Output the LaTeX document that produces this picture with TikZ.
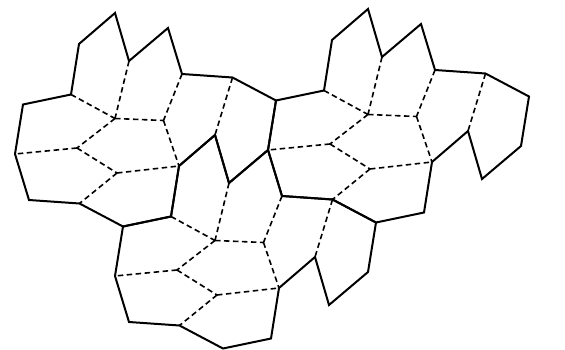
\documentclass[tikz,border=0pt]{standalone}
\begin{document}
\begin{tikzpicture}[x=1pt,y=-1pt]
\tikzset{
  outline/.style={line width=2pt, line join=miter, line cap=round},
  inner/.style={line width=1.6pt, dash pattern=on 5.5pt off 3.5pt},
  patch/.pic={
    \coordinate (a1) at (15,154);
    \coordinate (a2) at (23,104.5);
    \coordinate (a3) at (71,94.5);
    \coordinate (a4) at (79,44);
    \coordinate (a5) at (115,13);
    \coordinate (a6) at (129,61);
    \coordinate (a7) at (168,28);
    \coordinate (a8) at (182,74);
    \coordinate (a9) at (232.5,77.5);
    \coordinate (a10) at (276,100.5);
    \coordinate (a11) at (268,150);
    \coordinate (a12) at (229,183);
    \coordinate (a13) at (215,135);
    \coordinate (a14) at (179,166);
    \coordinate (a15) at (171,216.5);
    \coordinate (a16) at (123,226.5);
    \coordinate (a17) at (79.5,203.5);
    \coordinate (a18) at (29,200);
    \coordinate (j1) at (115,118.5);
    \coordinate (j2) at (77,148);
    \coordinate (j3) at (163.5,120.5);
    \coordinate (j5) at (117,173);
    \draw[inner] (a3) -- (j1) (a6) -- (j1) (j1) -- (j3) (a8) -- (j3)
      (j1) -- (j2) (j2) -- (a1) (j2) -- (j5) (j3) -- (a14)
      (j5) -- (a14) (j5) -- (a17) (a9) -- (a13);
    \draw[outline] (a1) -- (a2) -- (a3) -- (a4) -- (a5) -- (a6) -- (a7)
      -- (a8) -- (a9) -- (a10) -- (a11) -- (a12) -- (a13) -- (a14)
      -- (a15) -- (a16) -- (a17) -- (a18) -- cycle;
  }
}
\useasboundingbox[fill=white] (0,0) rectangle (565,350);
\pic (A) at (0,0) {patch};
\pic (B) at (253,-4) {patch};
\pic (C) at (100,122) {patch};
\end{tikzpicture}
\end{document}
